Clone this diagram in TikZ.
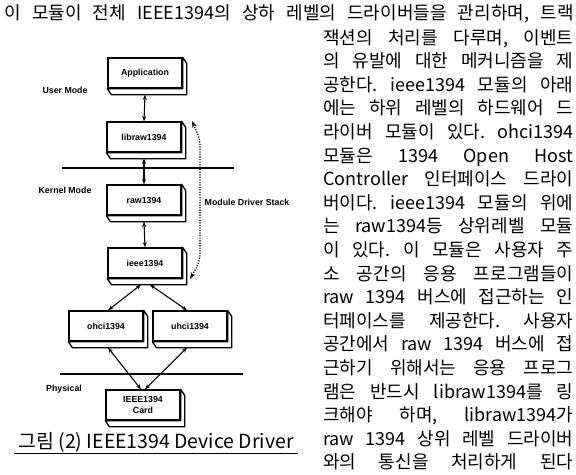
\documentclass[tikz,border=0pt]{standalone}
\usepackage{fontspec}
\setmainfont{Noto Sans CJK KR}
\newfontfamily\labelfont{Liberation Sans}
\usetikzlibrary{arrows.meta,positioning,calc}
\frenchspacing

\tikzset{
    layer/.style={rectangle, draw, fill=white, line width=1pt, minimum width=55.5pt, minimum height=22.5pt,
        inner sep=0pt, align=center, font=\labelfont\bfseries\fontsize{6.6}{8}\selectfont},
    modelabel/.style={font=\labelfont\bfseries\fontsize{6.6}{8}\selectfont},
    link/.style={{Stealth[length=4pt,width=3pt]}-{Stealth[length=4pt,width=3pt]}, line width=0.8pt},
    bodyline/.style={anchor=base west, inner sep=0pt, font=\fontsize{13.5}{16}\selectfont}
}
% 3D slab under a box
\newcommand{\slab}[1]{%
    \draw[line width=1pt, fill=white, line join=round] (#1.south west) -- ++(4,6) -- ($(#1.south east)+(4,6)$)
        -- ($(#1.north east)+(4,6)$) -- (#1.north east) -- (#1.south east) -- cycle;
}

\begin{document}
\begin{tikzpicture}[x=0.75pt, y=-0.75pt]
\useasboundingbox (0,0) rectangle (576,475);

% Body text
\node[bodyline] (line0) at (4,19) {\makebox[427pt][s]{이 모듈이 전체 IEEE1394의 상하 레벨의 드라이버들을 관리하며, 트랙}};
\foreach \txt [count=\i] in {
    {잭션의 처리를 다루며, 이벤트},
    {의 유발에 대한 메커니즘을 제},
    {공한다. ieee1394 모듈의 아래},
    {에는 하위 레벨의 하드웨어 드},
    {라이버 모듈이 있다. ohci1394},
    {모듈은 1394 Open Host},
    {Controller 인터페이스 드라이},
    {버이다. ieee1394 모듈의 위에},
    {는 raw1394등 상위레벨 모듈},
    {이 있다. 이 모듈은 사용자 주},
    {소 공간의 응용 프로그램들이},
    {raw 1394 버스에 접근하는 인},
    {터페이스를 제공한다. 사용자},
    {공간에서 raw 1394 버스에 접},
    {근하기 위해서는 응용 프로그},
    {램은 반드시 libraw1394를 링},
    {크해야 하며, libraw1394가},
    {raw 1394 상위 레벨 드라이버},
    {와의 통신을 처리하게 된다}} {
    \node[bodyline] (line\i) at (323, {20.4+23.6*\i}) {\makebox[187.5pt][s]{\txt}};
}

% Layers
\node[layer] (app) at (145,73) {Application};
\node[layer] (libraw) at (144,137) {libraw1394};
\node[layer] (raw) at (144,200) {raw1394};
\node[layer] (ieee) at (145,263) {ieee1394};
\node[layer] (ohci) at (106,326) {ohci1394};
\node[layer] (uhci) at (190,326) {uhci1394};
\node[layer] (card) at (143,405) {IEEE1394\\Card};
\foreach \n in {app,libraw,raw,ieee,ohci,uhci,card} {
    \slab{\n}
}

% Mode labels
\node[modelabel] (user) at (65,90) {User Mode};
\node[modelabel] (kernel) at (65,190) {Kernel Mode};
\node[modelabel] (phys) at (64,389) {Physical};
\node[modelabel] (stack) at (247,202) {Module Driver Stack};

% Boundaries
\draw[line width=0.8pt] (62,168) -- (234,168);
\draw[line width=0.8pt] (60,374) -- (243,374);

% Links
\draw[link] ($(app.south)+(0,6)$) -- (libraw.north);
\draw[link] ($(libraw.south)+(0,6)$) -- (raw.north);
\draw[link] ($(raw.south)+(0,6)$) -- (ieee.north);
\draw[link] ($(ieee.south)+(-4,6)$) -- ($(ohci.north)+(2,0)$);
\draw[link] ($(ieee.south)+(5,6)$) -- ($(uhci.north)+(-3,0)$);
\draw[link] ($(ohci.south)+(2,6)$) -- ($(card.north)+(-2,0)$);
\draw[link] ($(uhci.south)+(-3,6)$) -- ($(card.north)+(2,0)$);

% Module stack arrow
\coordinate (stacktop) at (192,121);
\coordinate (stackbot) at (190,279);
\draw[densely dotted, line width=0.9pt, rounded corners=5pt,
    {Stealth[length=5pt,width=3.5pt]}-{Stealth[length=5pt,width=3.5pt]}]
    (stacktop) -- (200,139) -- (200,261) -- (stackbot);

% Caption
\node[inner xsep=3pt, inner ysep=1pt, anchor=base, font=\fontsize{14.6}{17}\selectfont] (caption) at (156,448)
    {그림 (2) IEEE1394 Device Driver};
\draw[line width=0.9pt] (caption.south west) -- (caption.south east);

\end{tikzpicture}
\end{document}
